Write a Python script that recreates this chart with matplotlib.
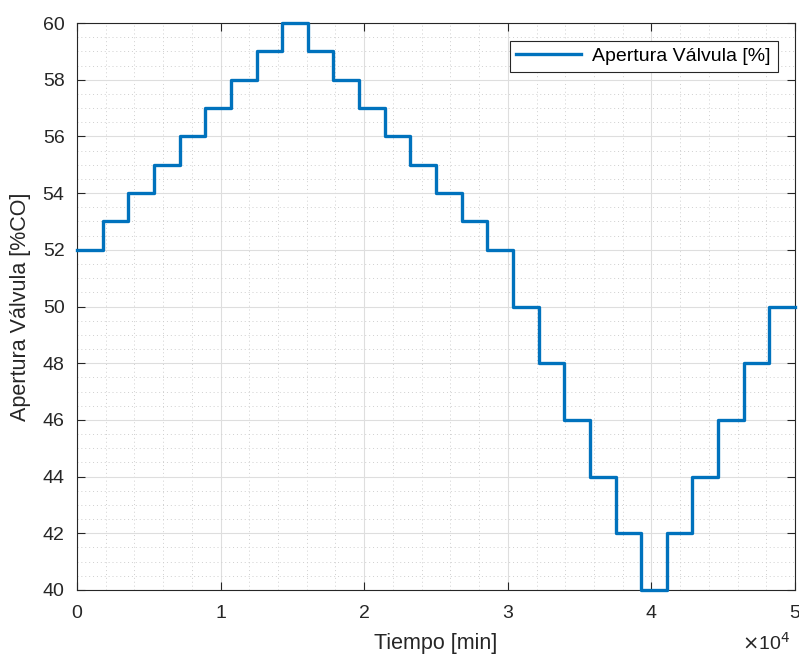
import numpy as np
import matplotlib.pyplot as plt
from matplotlib.ticker import MultipleLocator

plt.rcParams['font.family'] = ['Liberation Sans', 'DejaVu Sans']

# Apertura de válvula por tramo (28 tramos iguales en 0..5e4 min)
t_fin = 50000
apertura = [52, 53, 54, 55, 56, 57, 58, 59, 60, 59, 58, 57, 56, 55,
            54, 53, 52, 50, 48, 46, 44, 42, 40, 42, 44, 46, 48, 50]
n = len(apertura)
t = np.arange(n + 1) * t_fin / n
y = apertura + [apertura[-1]]

fig = plt.figure(figsize=(7.99, 6.59), dpi=100)
ax = fig.add_axes([77 / 799, 69 / 659, 718 / 799, 567 / 659])

ax.step(t, y, where='post', color='#0072BD', linewidth=2.4,
        label='Apertura Válvula [%]', zorder=3, clip_on=False)

ax.set_xlim(0, t_fin)
ax.set_ylim(40, 60)
ax.xaxis.set_major_locator(MultipleLocator(10000))
ax.xaxis.set_minor_locator(MultipleLocator(2000))
ax.yaxis.set_major_locator(MultipleLocator(2))
ax.yaxis.set_minor_locator(MultipleLocator(0.5))
ax.set_xticklabels([str(int(v / 10000)) for v in ax.get_xticks()])

ax.grid(which='major', color='#dedede', linewidth=0.8, linestyle='-')
ax.grid(which='minor', color='#cfcfcf', linewidth=0.7, linestyle=(0, (1, 3)))
ax.set_axisbelow(True)

ax.tick_params(which='both', direction='in', top=True, right=True,
               labelsize=14, colors='#262626', length=6, width=0.8)
ax.tick_params(axis='x', pad=11)
ax.tick_params(axis='y', pad=9)
ax.tick_params(which='minor', length=0)
for s in ax.spines.values():
    s.set_color('#262626')
    s.set_linewidth(0.8)

ax.set_xlabel('Tiempo [min]', fontsize=15.5, color='#262626', labelpad=8)
ax.set_ylabel('Apertura Válvula [%CO]', fontsize=15.5, color='#262626', labelpad=8)

ax.text(0.993, -0.112, r'$\times$10$^4$', transform=ax.transAxes, ha='right',
        va='bottom', fontsize=14, color='#262626')

leg = ax.legend(loc='upper right', fontsize=14, frameon=True, fancybox=False,
                borderaxespad=0.9, handlelength=3.3, borderpad=0.35,
                handletextpad=0.6)
leg.get_frame().set_edgecolor('#262626')
leg.get_frame().set_linewidth(0.8)
leg.get_frame().set_alpha(1)

fig.savefig('out.png', dpi=100)
